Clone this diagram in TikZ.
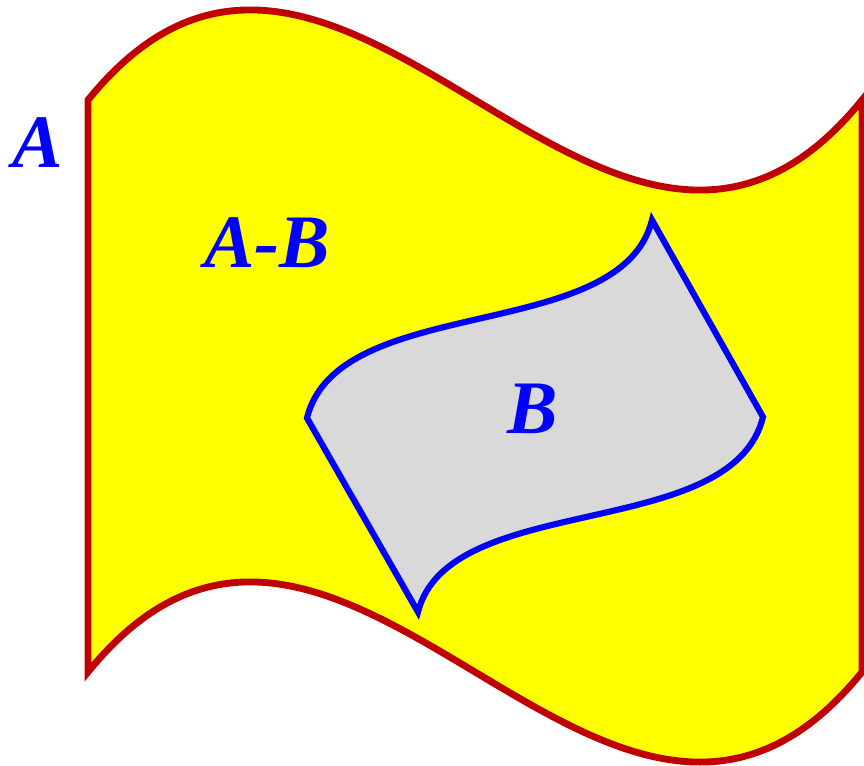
\documentclass[tikz,border=0pt]{standalone}
\usepackage{fontspec}
\setmainfont{Liberation Serif}
\usetikzlibrary{positioning}
\definecolor{setred}{RGB}{192,0,0}
\definecolor{setyellow}{RGB}{255,255,0}
\definecolor{setgray}{RGB}{217,217,217}
\tikzset{
  setA/.style={draw=setred, line width=3.9pt, fill=setyellow},
  setB/.style={draw=blue, line width=3.5pt, fill=setgray},
  setlabel/.style={font=\fontsize{43}{43}\selectfont\bfseries\itshape, text=blue, inner sep=0pt, anchor=base}
}

\begin{document}
\begin{tikzpicture}[x=0.02cm, y=-0.02cm]
  \useasboundingbox (0,0) rectangle (864,766);
  % the set A
  \draw[setA] (88,100) .. controls (341,-212) and (609,412) .. (862,100)
    -- (862,672) .. controls (609,984) and (341,360) .. (88,672) -- cycle;
  % the set B inside it
  \draw[setB] (307,418) .. controls (338,292) and (621,345) .. (652,220)
    -- (763,417) .. controls (732,543) and (449,490) .. (418,612) -- cycle;
  \node[setlabel] (labA) at (38,168) {A};
  \node[setlabel] (labAB) at (267,268) {A-B};
  \node[setlabel] (labB) at (533,433) {B};
\end{tikzpicture}
\end{document}
